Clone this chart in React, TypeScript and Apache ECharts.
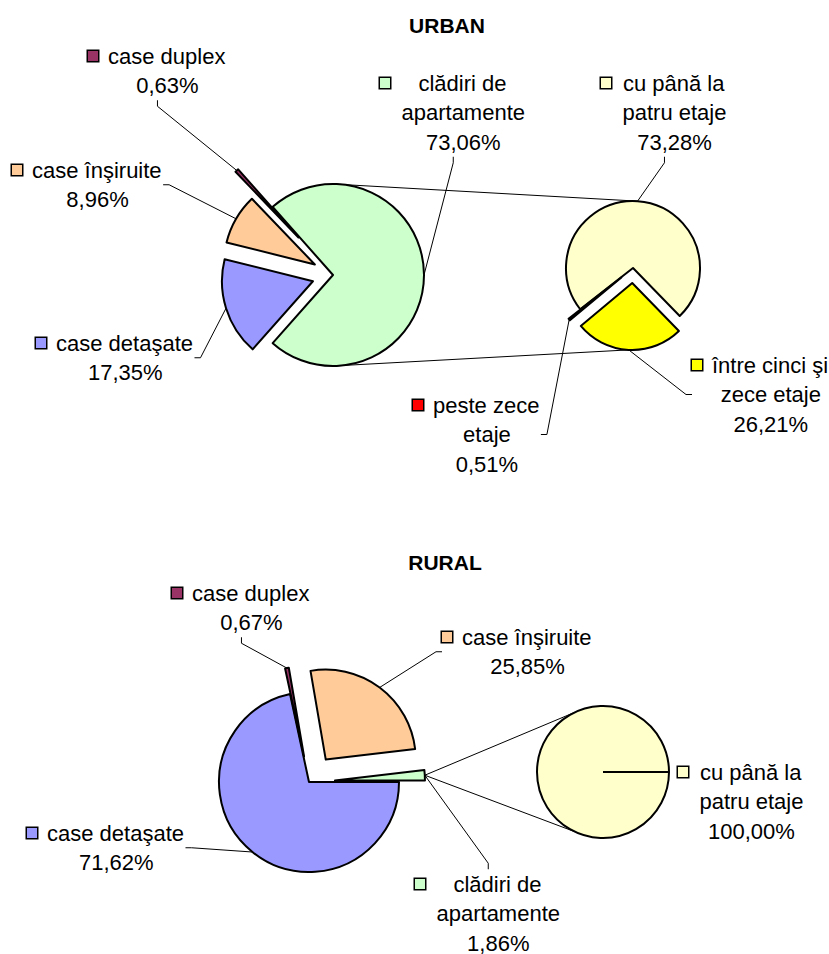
import React, { useEffect, useRef } from "react";
import * as echarts from "echarts";

const FONT = '"Liberation Sans", Arial, sans-serif';
const FS = 22;
const LH = 29.5;

// ---------- DATA ----------
// URBAN, main pie
const urbanMainLines = [["clădiri de", "apartamente"], ["case detaşate"], ["case înşiruite"], ["case duplex"]];
const urbanMainValues = [73.06, 17.35, 8.96, 0.63];
const urbanMainColors = ["#CCFFCC", "#9999FF", "#FFCC99", "#993366"];
// URBAN, secondary pie (clădiri de apartamente)
const urbanSubLines = [["cu până la", "patru etaje"], ["între cinci şi", "zece etaje"], ["peste zece", "etaje"]];
const urbanSubValues = [73.28, 26.21, 0.51];
const urbanSubColors = ["#FFFFCC", "#FFFF00", "#FF0000"];
// RURAL, main pie
const ruralMainLines = [["case detaşate"], ["case duplex"], ["case înşiruite"], ["clădiri de", "apartamente"]];
const ruralMainValues = [71.62, 0.67, 25.85, 1.86];
const ruralMainColors = ["#9999FF", "#993366", "#FFCC99", "#CCFFCC"];
// RURAL, secondary pie
const ruralSubLines = [["cu până la", "patru etaje"]];
const ruralSubValues = [100.0];
const ruralSubColors = ["#FFFFCC"];

const titles = ["URBAN", "RURAL"];

// ---------- LAYOUT ----------
type Spec = {
  key: string;
  lines: string[][];
  values: number[];
  colors: string[];
  cx: number;
  cy: number;
  r: number;
  startAngle: number;
  offsets: number[];
  labelPos: number[][];
  sides: (string | null)[];
};

const urbanMain: Spec = {
  key: "um", lines: urbanMainLines, values: urbanMainValues, colors: urbanMainColors,
  cx: 333, cy: 275, r: 91, startAngle: 131.5,
  offsets: [0, 21, 21, 51],
  labelPos: [[380, 83], [36, 343], [12, 170], [88, 56]],
  sides: ["bottom", "right", "right", "bottom"],
};
const urbanSub: Spec = {
  key: "us", lines: urbanSubLines, values: urbanSubValues, colors: urbanSubColors,
  cx: 633, cy: 268, r: 67, startAngle: 218,
  offsets: [0, 15, 15],
  labelPos: [[601, 83], [692, 365], [413, 405]],
  sides: ["bottom", "left", "right"],
};
const ruralMain: Spec = {
  key: "rm", lines: ruralMainLines, values: ruralMainValues, colors: ruralMainColors,
  cx: 309, cy: 782, r: 90, startAngle: 0,
  offsets: [0, 26, 28, 26],
  labelPos: [[27, 833], [172, 593], [442, 637], [415, 884]],
  sides: ["right", "bottom", "left", "top"],
};
const ruralSub: Spec = {
  key: "rs", lines: ruralSubLines, values: ruralSubValues, colors: ruralSubColors,
  cx: 603, cy: 772, r: 66, startAngle: 0,
  offsets: [0],
  labelPos: [[678, 772]],
  sides: [null],
};

const rad = (d: number) => (d * Math.PI) / 180;

function midAngle(spec: Spec, i: number) {
  const total = spec.values.reduce((a, b) => a + b, 0);
  let cum = 0;
  for (let k = 0; k < i; k++) cum += spec.values[k];
  return spec.startAngle - ((cum + spec.values[i] / 2) / total) * 360;
}
function sliceCenter(spec: Spec, i: number) {
  const m = rad(midAngle(spec, i));
  const o = spec.offsets[i];
  return [spec.cx + o * Math.cos(m), spec.cy - o * Math.sin(m)];
}
function arcPoint(spec: Spec, i: number) {
  const [x, y] = sliceCenter(spec, i);
  const m = rad(midAngle(spec, i));
  return [x + spec.r * Math.cos(m), y - spec.r * Math.sin(m)];
}
function circlePoint(spec: Spec, deg: number) {
  return [spec.cx + spec.r * Math.cos(rad(deg)), spec.cy - spec.r * Math.sin(rad(deg))];
}

const pct = (v: number) => v.toFixed(2).replace(".", ",") + "%";

function labelText(lines: string[], v: number) {
  return [...lines, pct(v)]
    .map((l, k) => (k === 0 ? "{box|}{gap|}" : "{sp|}") + "{t|" + l + "}")
    .join("\n");
}

function buildSeries(spec: Spec): any[] {
  return spec.values.map((_, i) => {
    const center = sliceCenter(spec, i);
    const anchor = arcPoint(spec, i);
    const [lx, ly] = spec.labelPos[i];
    const side = spec.sides[i];
    return {
      type: "pie",
      name: spec.key + i,
      center,
      radius: spec.r,
      startAngle: spec.startAngle,
      clockwise: true,
      avoidLabelOverlap: false,
      silent: true,
      animation: false,
      emphasis: { disabled: true },
      labelLayout: (params: any) => {
        const w = params.labelRect.width;
        const h = params.labelRect.height;
        const x = lx;
        const y = ly - LH / 2;
        const res: any = { x, y, align: "left", verticalAlign: "top" };
        if (side) {
          let p0: number[];
          let p1: number[];
          if (side === "left") { p0 = [x, y + h / 2]; p1 = [x - 6, y + h / 2]; }
          else if (side === "right") { p0 = [x + w, y + h / 2]; p1 = [x + w + 6, y + h / 2]; }
          else if (side === "bottom") { p0 = [x + w / 2, y + h]; p1 = [x + w / 2, y + h + 6]; }
          else { p0 = [x + w / 2, y]; p1 = [x + w / 2, y - 6]; }
          res.labelLinePoints = [anchor, p1, p0];
        }
        return res;
      },
      labelLine: { show: true, length: 6, length2: 6, minTurnAngle: 0, lineStyle: { color: "#000", width: 1 } },
      data: spec.values.map((v, j) =>
        j === i
          ? {
              value: v,
              name: spec.lines[j].join(" "),
              itemStyle: { color: spec.colors[j], borderColor: "#000", borderWidth: 2 },
              label: {
                show: true,
                position: "outside",
                formatter: labelText(spec.lines[j], v),
                fontFamily: FONT,
                fontSize: FS,
                fontWeight: "normal",
                lineHeight: LH,
                color: "#000",
                rich: {
                  box: { width: 10, height: 10, backgroundColor: spec.colors[j], borderColor: "#000", borderWidth: 1.5, align: "left" },
                  gap: { width: 10, align: "left" },
                  sp: { width: 21.5, align: "left" },
                  t: { fontFamily: FONT, fontSize: FS, fontWeight: "normal", lineHeight: LH, color: "#000", align: "center" },
                },
              },
              labelLine: { show: !!side },
            }
          : {
              value: v,
              name: spec.lines[j].join(" "),
              itemStyle: { color: "rgba(0,0,0,0)", borderWidth: 0 },
              label: { show: false },
              labelLine: { show: false },
            }
      ),
    };
  });
}

function line(a: number[], b: number[], z = 0, w = 1): any {
  return { type: "line", z, shape: { x1: a[0], y1: a[1], x2: b[0], y2: b[1] }, style: { stroke: "#000", lineWidth: w } };
}

export default function App() {
  const ref = useRef<HTMLDivElement>(null);
  useEffect(() => {
    if (!ref.current) return;
    const chart = echarts.init(ref.current, null, { renderer: "svg" });

    // connector lines (pie of pie)
    const umTop = circlePoint(urbanMain, 90);
    const umBot = circlePoint(urbanMain, 270);
    const usTop = arcPoint(urbanSub, 0);
    const usBot = arcPoint(urbanSub, 1);
    const rmTip = arcPoint(ruralMain, 3);
    const rsTop = circlePoint(ruralSub, 115);
    const rsBot = circlePoint(ruralSub, -115);
    const rsRadial = circlePoint(ruralSub, ruralSub.startAngle);

    chart.setOption({
      animation: false,
      backgroundColor: "#fff",
      textStyle: { fontFamily: FONT },
      graphic: {
        elements: [
          { type: "text", x: 447, y: 25, style: { text: titles[0], font: `bold 21px ${FONT}`, fill: "#000", align: "center", verticalAlign: "middle", textAlign: "center", textVerticalAlign: "middle" } },
          { type: "text", x: 445, y: 562, style: { text: titles[1], font: `bold 21px ${FONT}`, fill: "#000", align: "center", verticalAlign: "middle", textAlign: "center", textVerticalAlign: "middle" } },
          line(umTop, usTop),
          line(umBot, usBot),
          line(rmTip, rsTop),
          line(rmTip, rsBot),
          line([ruralSub.cx, ruralSub.cy], rsRadial, 100, 2),
        ],
      },
      series: [
        ...buildSeries(urbanMain),
        ...buildSeries(urbanSub),
        ...buildSeries(ruralMain),
        ...buildSeries(ruralSub),
      ],
    });
    return () => chart.dispose();
  }, []);
  return <div ref={ref} style={{ position: "absolute", left: 0, top: 0, width: 829, height: 954 }} />;
}
